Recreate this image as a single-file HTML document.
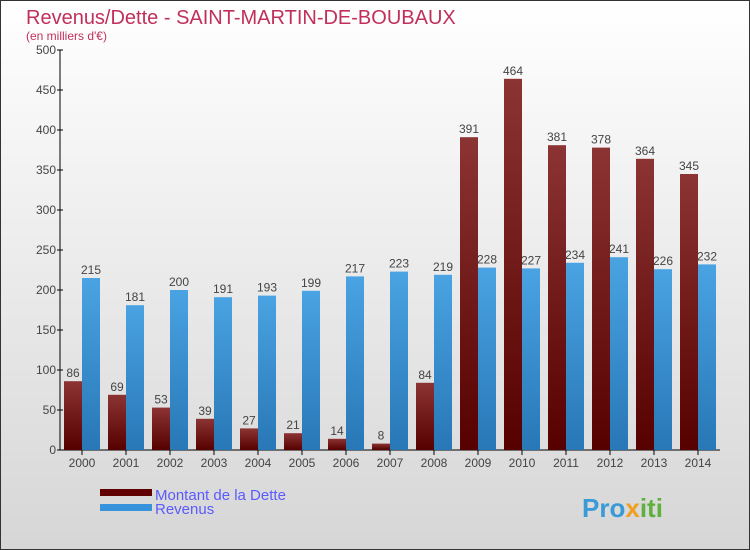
<!DOCTYPE html>
<html><head><meta charset="utf-8"><style>
body{margin:0;}
#wrap{width:750px;height:550px;position:relative;overflow:hidden;font-family:"Liberation Sans",sans-serif;}
</style></head><body>
<div id="wrap">
<svg id="chart" width="750" height="550" xmlns="http://www.w3.org/2000/svg">
<defs>
<linearGradient id="bg" x1="0" y1="0" x2="0" y2="1"><stop offset="0" stop-color="#ffffff"/><stop offset="1" stop-color="#d6d6d6"/></linearGradient>
<linearGradient id="gd" x1="0" y1="0" x2="0" y2="1"><stop offset="0" stop-color="#8c3434"/><stop offset="1" stop-color="#560000"/></linearGradient>
<linearGradient id="gr" x1="0" y1="0" x2="0" y2="1"><stop offset="0" stop-color="#4aa3e2"/><stop offset="1" stop-color="#2877b6"/></linearGradient>
</defs>
<rect x="0.5" y="0.5" width="749" height="549" fill="url(#bg)" stroke="#333"/>
<text x="26" y="24" font-size="20" fill="#c0305a">Revenus/Dette - SAINT-MARTIN-DE-BOUBAUX</text>
<text x="26" y="40" font-size="12" fill="#c0305a">(en milliers d'€)</text>
<g id="axes"></g>
<g id="bars"></g>
<rect x="100" y="489" width="52" height="7" fill="#600000"/>
<text x="155" y="500" font-size="15" fill="#5a5aff">Montant de la Dette</text>
<rect x="100" y="504" width="52" height="7" fill="#3592db"/>
<text x="155" y="514" font-size="15" fill="#5a5aff">Revenus</text>
<text x="582" y="517" font-size="26" font-weight="bold" fill="#3a9ad8">Pro<tspan fill="#f0a020">x</tspan><tspan fill="#60b040">iti</tspan></text>
</svg>
</div>
<script>
const years=["2000","2001","2002","2003","2004","2005","2006","2007","2008","2009","2010","2011","2012","2013","2014"];
const dette=[86,69,53,39,27,21,14,8,84,391,464,381,378,364,345];
const revenus=[215,181,200,191,193,199,217,223,219,228,227,234,241,226,232];
const yTicks=[0,50,100,150,200,250,300,350,400,450,500];
const NS="http://www.w3.org/2000/svg";
const y=v=>450-v*0.8;
const xc=i=>82+i*44;
const axes=document.getElementById('axes'),bars=document.getElementById('bars');
function mk(tag,attrs,parent){const e=document.createElementNS(NS,tag);for(const k in attrs)e.setAttribute(k,attrs[k]);parent.appendChild(e);return e;}
let l=mk('line',{x1:60,y1:50,x2:60,y2:450,stroke:'#000'},axes);


l=mk('line',{x1:60,y1:450,x2:720,y2:450,stroke:'#000'},axes);


yTicks.forEach(v=>{
  const t=mk('line',{x1:57,y1:y(v),x2:63,y2:y(v),stroke:'#000'},axes);
  
  
  const tx=mk('text',{x:56,y:y(v)+4,'font-size':12,fill:'#444','text-anchor':'end'},axes);
  tx.textContent=v;
  
  
});
years.forEach((yr,i)=>{
  const c=xc(i);
  const t=mk('line',{x1:c,y1:450,x2:c,y2:455,stroke:'#000'},axes);
  
  
  const tx=mk('text',{x:c,y:467,'font-size':12,fill:'#444','text-anchor':'middle'},axes);
  tx.textContent=yr;
  
  
  const b1=mk('rect',{x:c-18,y:y(dette[i]),width:18,height:dette[i]*0.8,fill:'url(#gd)'},bars);
  
  
  const b2=mk('rect',{x:c,y:y(revenus[i]),width:18,height:revenus[i]*0.8,fill:'url(#gr)'},bars);
  
  
  const l1=mk('text',{x:c-9,y:y(dette[i])-4,'font-size':12,fill:'#444','text-anchor':'middle'},bars);
  l1.textContent=dette[i];
  
  
  const l2=mk('text',{x:c+9,y:y(revenus[i])-4,'font-size':12,fill:'#444','text-anchor':'middle'},bars);
  l2.textContent=revenus[i];
  
  
});
</script>
</body></html>
